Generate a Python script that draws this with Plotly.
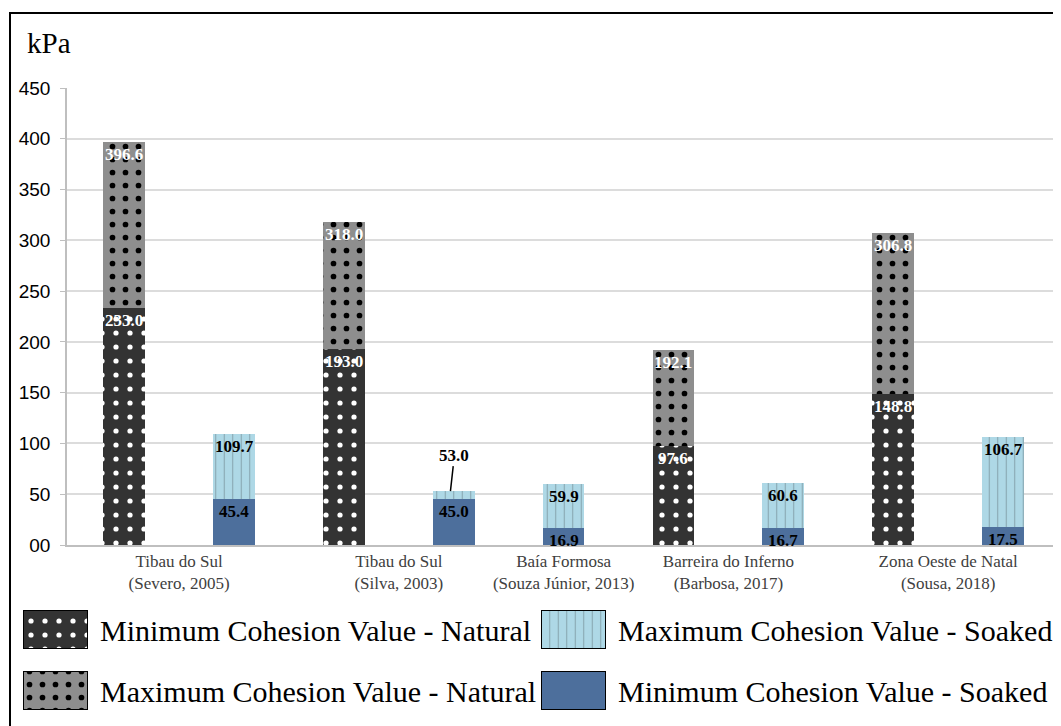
import plotly.graph_objects as go

# ---------------- data ----------------
categories = ["Tibau do Sul<br>(Severo, 2005)", "Tibau do Sul<br>(Silva, 2003)",
              "Baía Formosa<br>(Souza Júnior, 2013)", "Barreira do Inferno<br>(Barbosa, 2017)",
              "Zona Oeste de Natal<br>(Sousa, 2018)"]
natural_min = [233.0, 193.0, None, 97.6, 148.8]
natural_max = [396.6, 318.0, None, 192.1, 306.8]
soaked_min = [45.4, 45.0, 16.9, 16.7, 17.5]
soaked_max = [109.7, 53.0, 59.9, 60.6, 106.7]
y_tickvals = [0, 50, 100, 150, 200, 250, 300, 350, 400, 450]
y_ticktext = ["00", "50", "100", "150", "200", "250", "300", "350", "400", "450"]
legend_names = ["Minimum Cohesion Value - Natural", "Maximum Cohesion Value - Natural",
                "Maximum Cohesion Value - Soaked", "Minimum Cohesion Value - Soaked"]

# ---------------- styles ----------------
C_NMIN = "#333333"
C_NMAX = "#8e8e8e"
C_SMIN = "#4d6f9c"
C_SMAX = "#aed8e6"
SERIF = "Liberation Serif, Times New Roman, serif"
SANS = "Liberation Sans, Arial, sans-serif"

pat_nmin = dict(shape=".", fgcolor="white", bgcolor=C_NMIN, size=14, solidity=0.11, fillmode="replace")
pat_nmax = dict(shape=".", fgcolor="black", bgcolor=C_NMAX, size=13, solidity=0.15, fillmode="replace")
pat_smax = dict(shape="|", fgcolor="#86a3ae", bgcolor=C_SMAX, size=8.5, solidity=0.12, fillmode="replace")

# positions: each bar gets its own slot
nat_x, soak_x, tick_pos = [], [], []
pos = 0
for i in range(len(categories)):
    if natural_min[i] is not None:
        nat_x.append(pos)
        soak_x.append(pos + 1)
        tick_pos.append(pos + 0.5)
        pos += 2
    else:
        nat_x.append(None)
        soak_x.append(pos)
        tick_pos.append(pos)
        pos += 1

nx = [x for x, v in zip(nat_x, natural_min) if v is not None]
nmin = [v for v in natural_min if v is not None]
nmax_seg = [mx - mn for mx, mn in zip(natural_max, natural_min) if mn is not None]
smax_seg = [mx - mn for mx, mn in zip(soaked_max, soaked_min)]

BW = 0.38
fig = go.Figure()
fig.add_trace(go.Bar(x=nx, y=nmin, width=BW, marker=dict(color=C_NMIN, pattern=pat_nmin, line=dict(width=0)),
                     name=legend_names[0], showlegend=False))
fig.add_trace(go.Bar(x=nx, y=nmax_seg, width=BW, marker=dict(color=C_NMAX, pattern=pat_nmax, line=dict(width=0)),
                     name=legend_names[1], showlegend=False))
fig.add_trace(go.Bar(x=soak_x, y=soaked_min, width=BW, marker=dict(color=C_SMIN, line=dict(width=0)),
                     name=legend_names[3], showlegend=False))
fig.add_trace(go.Bar(x=soak_x, y=smax_seg, width=BW, marker=dict(color=C_SMAX, pattern=pat_smax, line=dict(width=0)),
                     name=legend_names[2], showlegend=False))

# value labels
def lab(x, y, txt, color):
    fig.add_annotation(x=x, y=y, text="<b>%s</b>" % txt, showarrow=False, yanchor="top", yshift=-1,
                       font=dict(family=SERIF, size=17, color=color), xref="x", yref="y")

for i in range(len(categories)):
    if natural_min[i] is not None:
        lab(nat_x[i], natural_min[i], "%.1f" % natural_min[i], "white")
        lab(nat_x[i], natural_max[i], "%.1f" % natural_max[i], "white")
    lab(soak_x[i], soaked_min[i], "%.1f" % soaked_min[i], "black")
    if soaked_max[i] - soaked_min[i] < 15:
        fig.add_annotation(x=soak_x[i] - 0.03, y=soaked_max[i], text="<b>%.1f</b>" % soaked_max[i],
                           showarrow=True, arrowhead=0, arrowwidth=1.5, arrowcolor="black",
                           ax=4, ay=-36, standoff=0,
                           font=dict(family=SERIF, size=17, color="black"), xref="x", yref="y")
    else:
        lab(soak_x[i], soaked_max[i], "%.1f" % soaked_max[i], "black")

# ---------------- page geometry (reference pixel -> paper) ----------------
OFF = 8                       # page body margin
W, H = 1061 - OFF, 726 - OFF
L, R, T, B = 2, 3, 5, 0
PW, PH = W - L - R, H - T - B

def px_x(p):
    return (p - OFF - L) / PW

def px_y(p):
    return (H - B - (p - OFF)) / PH

# custom legend swatches
sw_specs = [  # (legend index, x center px, y top px, color, pattern)
    (0, 55.5, 611, C_NMIN, pat_nmin),
    (1, 55.5, 672, C_NMAX, pat_nmax),
    (2, 573.5, 611, C_SMAX, pat_smax),
    (3, 573.5, 672, C_SMIN, None),
]
for idx, cx, top, col, pat in sw_specs:
    mk = dict(color=col, line=dict(color="black", width=1.5))
    if pat:
        mk["pattern"] = pat
    fig.add_trace(go.Bar(x=[cx], y=[38], base=[top], width=64, marker=mk, xaxis="x2", yaxis="y2",
                         showlegend=False, hoverinfo="skip"))
    fig.add_annotation(x=px_x(cx + 42), y=px_y(top + 19), xref="paper", yref="paper", xanchor="left",
                       yanchor="middle", showarrow=False, text=legend_names[idx],
                       font=dict(family=SERIF, size=30, color="black"))

# kPa label
fig.add_annotation(x=px_x(25), y=px_y(43), xref="paper", yref="paper", xanchor="left", yanchor="middle",
                   showarrow=False, text="kPa", font=dict(family=SERIF, size=29, color="black"))

# outer frame
fig.add_shape(type="rect", xref="paper", yref="paper", x0=px_x(10), y0=-0.2, x1=1.1, y1=px_y(13),
              line=dict(color="black", width=2), fillcolor="rgba(0,0,0,0)", layer="above")

fig.update_layout(
    width=W, height=H, barmode="stack", bargap=0,
    margin=dict(l=L, r=R, t=T, b=B, autoexpand=False),
    plot_bgcolor="white", paper_bgcolor="white",
    xaxis=dict(domain=[px_x(67), px_x(1058)], range=[-0.52, pos - 0.5], tickvals=tick_pos, ticktext=categories,
               showgrid=False, showline=True, linecolor="#bfbfbf", linewidth=1.5, ticks="", zeroline=False,
               automargin=False,
               tickfont=dict(family=SERIF, size=17, color="#404040"), anchor="y"),
    yaxis=dict(domain=[px_y(545), px_y(88)], range=[0, 450], tickvals=y_tickvals, ticktext=y_ticktext,
               showgrid=True, gridcolor="#dcdcdc", gridwidth=1.5, showline=True, linecolor="#bfbfbf",
               linewidth=1.5, ticks="outside", ticklen=5, tickcolor="#bfbfbf", zeroline=False,
               automargin=False, ticklabelstandoff=6,
               tickfont=dict(family=SANS, size=19, color="black"), anchor="x"),
    xaxis2=dict(domain=[0, 1], range=[L + OFF, W - R + OFF], visible=False, anchor="y2", fixedrange=True,
                automargin=False),
    yaxis2=dict(domain=[px_y(716), px_y(600)], range=[716, 600], visible=False, anchor="x2", fixedrange=True,
                automargin=False),
)

fig.write_html("out.html")
